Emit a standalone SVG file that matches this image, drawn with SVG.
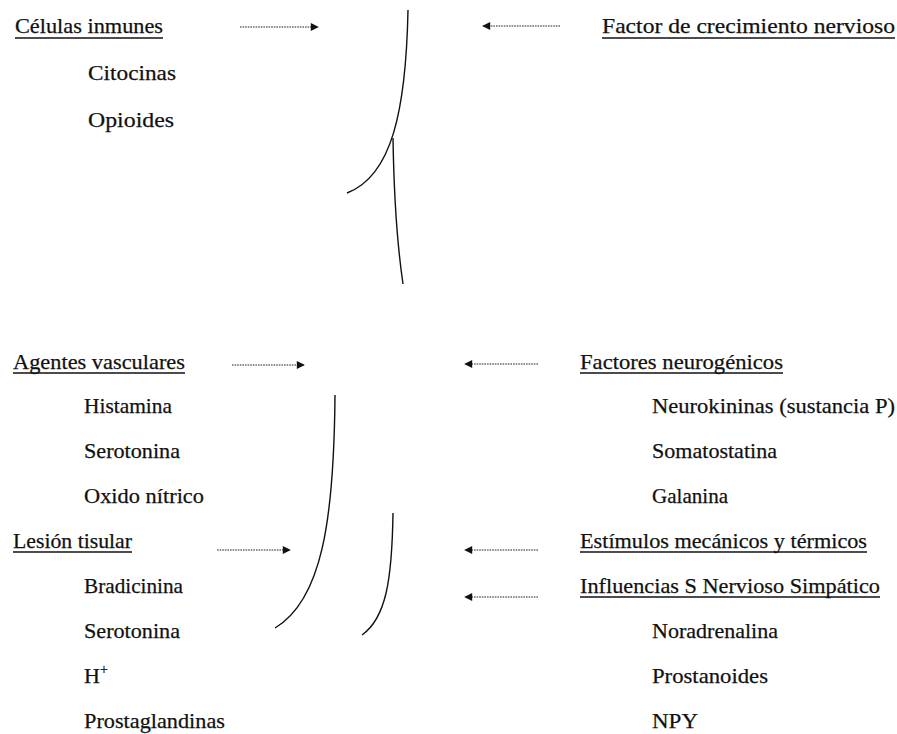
<svg xmlns="http://www.w3.org/2000/svg" width="897" height="734" viewBox="0 0 897 734">
<style>
text{font-family:'Liberation Serif','DejaVu Serif',serif;font-size:22px;fill:#111;stroke:#111;stroke-width:0.25}
.ul{stroke:#111;stroke-width:1.3}
.arr{stroke:#222;stroke-width:1.1;stroke-dasharray:1.6 1;fill:none}
.crv{stroke:#111;stroke-width:1.4;fill:none}
</style>
<defs>
<marker id="ah" viewBox="0 0 10 10" refX="9" refY="5" markerWidth="9" markerHeight="8" markerUnits="userSpaceOnUse" orient="auto">
<path d="M0,0 L10,5 L0,10 Z" fill="#111"/>
</marker>
</defs>
<rect width="897" height="734" fill="#fff"/>

<g id="celulas-inmunes">
<text x="15" y="33" textLength="148" lengthAdjust="spacingAndGlyphs">Células inmunes</text>
<line class="ul" x1="15" y1="38" x2="163" y2="38"/>
<text x="88" y="80" textLength="88" lengthAdjust="spacingAndGlyphs">Citocinas</text>
<text x="88" y="127" textLength="86" lengthAdjust="spacingAndGlyphs">Opioides</text>
</g>

<g id="factor-crecimiento">
<text x="602" y="33" textLength="293" lengthAdjust="spacingAndGlyphs">Factor de crecimiento nervioso</text>
<line class="ul" x1="602" y1="38" x2="895" y2="38"/>
</g>

<g id="agentes-vasculares">
<text x="13" y="369" textLength="172" lengthAdjust="spacingAndGlyphs">Agentes vasculares</text>
<line class="ul" x1="13" y1="373" x2="185" y2="373"/>
<text x="84" y="413" textLength="88" lengthAdjust="spacingAndGlyphs">Histamina</text>
<text x="84" y="458" textLength="96" lengthAdjust="spacingAndGlyphs">Serotonina</text>
<text x="84" y="503" textLength="120" lengthAdjust="spacingAndGlyphs">Oxido nítrico</text>
</g>

<g id="lesion-tisular">
<text x="13" y="548" textLength="119" lengthAdjust="spacingAndGlyphs">Lesión tisular</text>
<line class="ul" x1="13" y1="552" x2="132" y2="552"/>
<text x="84" y="593" textLength="99" lengthAdjust="spacingAndGlyphs">Bradicinina</text>
<text x="84" y="638" textLength="96" lengthAdjust="spacingAndGlyphs">Serotonina</text>
<text x="84" y="683">H<tspan font-size="14" dy="-9">+</tspan></text>
<text x="84" y="728" textLength="141" lengthAdjust="spacingAndGlyphs">Prostaglandinas</text>
</g>

<g id="factores-neurogenicos">
<text x="580" y="369" textLength="203" lengthAdjust="spacingAndGlyphs">Factores neurogénicos</text>
<line class="ul" x1="580" y1="373" x2="783" y2="373"/>
<text x="652" y="413" textLength="243" lengthAdjust="spacingAndGlyphs">Neurokininas (sustancia P)</text>
<text x="652" y="458" textLength="125" lengthAdjust="spacingAndGlyphs">Somatostatina</text>
<text x="652" y="503" textLength="76" lengthAdjust="spacingAndGlyphs">Galanina</text>
</g>

<g id="estimulos">
<text x="580" y="548" textLength="287" lengthAdjust="spacingAndGlyphs">Estímulos mecánicos y térmicos</text>
<line class="ul" x1="580" y1="552" x2="867" y2="552"/>
</g>

<g id="influencias-sns">
<text x="580" y="593" textLength="300" lengthAdjust="spacingAndGlyphs">Influencias S Nervioso Simpático</text>
<line class="ul" x1="580" y1="597" x2="880" y2="597"/>
<text x="652" y="638" textLength="126" lengthAdjust="spacingAndGlyphs">Noradrenalina</text>
<text x="652" y="683" textLength="116" lengthAdjust="spacingAndGlyphs">Prostanoides</text>
<text x="652" y="728" textLength="46" lengthAdjust="spacingAndGlyphs">NPY</text>
</g>

<g id="connectors">
<line class="arr" x1="240" y1="27" x2="318" y2="27" marker-end="url(#ah)"/>
<line class="arr" x1="560" y1="26" x2="483" y2="26" marker-end="url(#ah)"/>
<line class="arr" x1="232" y1="365" x2="304" y2="365" marker-end="url(#ah)"/>
<line class="arr" x1="217" y1="550" x2="290" y2="550" marker-end="url(#ah)"/>
<line class="arr" x1="538" y1="364" x2="465" y2="364" marker-end="url(#ah)"/>
<line class="arr" x1="538" y1="550" x2="465" y2="550" marker-end="url(#ah)"/>
<line class="arr" x1="538" y1="597" x2="465" y2="597" marker-end="url(#ah)"/>
<path class="crv" d="M408,10 C406,110 392,176 347,193"/>
<path class="crv" d="M393,138 C394,200 398,250 403,284"/>
<path class="crv" d="M335,395 C334,520 322,600 275,628"/>
<path class="crv" d="M393,513 C392,580 386,618 362,635"/>
</g>
</svg>
